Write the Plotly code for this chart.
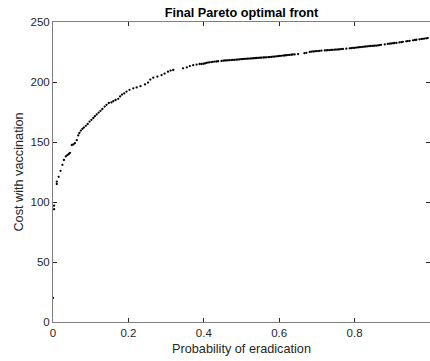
import plotly.graph_objects as go

# Pareto front points: probability of eradication vs cost with vaccination
prob_eradication = [
    0.000, 0.003, 0.003, 0.010, 0.010, 0.015, 0.020, 0.025, 0.029, 0.034,
    0.038, 0.042, 0.045, 0.050, 0.054, 0.058, 0.063, 0.067, 0.070, 0.074,
    0.078, 0.082, 0.087, 0.092, 0.097, 0.102, 0.107, 0.111, 0.116, 0.121,
    0.126, 0.131, 0.137, 0.142, 0.148, 0.155, 0.160, 0.166, 0.173, 0.178,
    0.183, 0.189, 0.195, 0.203, 0.213, 0.222, 0.232, 0.244, 0.252, 0.258,
    0.266, 0.277, 0.288, 0.296, 0.305, 0.312, 0.319, 0.345, 0.355, 0.363,
    0.372, 0.381, 0.389,
    0.394, 0.399, 0.403, 0.407, 0.411, 0.415, 0.420, 0.424, 0.429, 0.434,
    0.438, 0.447, 0.452, 0.456, 0.460, 0.464, 0.468, 0.473, 0.477, 0.481,
    0.486, 0.490, 0.494, 0.499, 0.503, 0.507, 0.512, 0.516, 0.520, 0.525,
    0.529, 0.533, 0.537, 0.540, 0.544, 0.549, 0.553, 0.558, 0.562, 0.566,
    0.571, 0.575, 0.579, 0.584, 0.588, 0.592, 0.597, 0.601, 0.605, 0.610,
    0.614, 0.618, 0.623, 0.627, 0.632, 0.636, 0.641, 0.650, 0.667, 0.672,
    0.681, 0.685, 0.690, 0.694, 0.698, 0.703, 0.707, 0.712, 0.721, 0.725,
    0.729, 0.734, 0.738, 0.742, 0.747, 0.751, 0.756, 0.760, 0.764, 0.769,
    0.778, 0.787, 0.791, 0.796, 0.800, 0.804, 0.809, 0.813, 0.817, 0.822,
    0.826, 0.830, 0.835, 0.839, 0.843, 0.848, 0.852, 0.857, 0.862, 0.866,
    0.870, 0.880, 0.888, 0.893, 0.897, 0.902, 0.906, 0.911, 0.919, 0.924,
    0.928, 0.937, 0.941, 0.946, 0.955, 0.960, 0.964, 0.972, 0.977, 0.981,
    0.985, 0.990, 0.994,
]

cost_vaccination = [
    20.0, 97.0, 94.0, 115.0, 117.0, 121.0, 126.0, 131.0, 135.0, 138.0,
    139.0, 140.0, 141.0, 147.5, 148.0, 149.0, 151.5, 155.5, 157.5, 159.5,
    161.0, 162.0, 163.5, 165.0, 167.0, 168.5, 170.0, 171.5, 173.0, 174.5,
    176.0, 177.5, 179.5, 181.0, 182.5, 183.0, 184.0, 185.0, 186.0, 188.0,
    189.5, 190.5, 192.0, 193.5, 194.7, 195.5, 196.5, 198.0, 199.5, 202.0,
    203.6, 204.5, 205.8, 207.0, 208.6, 209.5, 210.0, 211.4, 212.2, 213.3,
    214.0, 214.5, 215.0,
    215.0, 215.2, 215.5, 216.0, 216.2, 216.4, 216.6, 216.8, 217.0, 217.1,
    217.3, 217.6, 217.8, 217.9, 218.0, 218.1, 218.2, 218.3, 218.4, 218.5,
    218.6, 218.7, 218.8, 219.0, 219.1, 219.2, 219.3, 219.4, 219.5, 219.6,
    219.7, 219.8, 219.9, 220.0, 220.1, 220.2, 220.3, 220.4, 220.5, 220.6,
    220.7, 220.8, 220.9, 221.1, 221.2, 221.4, 221.5, 221.7, 221.8, 222.0,
    222.1, 222.3, 222.4, 222.6, 222.7, 222.9, 223.0, 223.3, 224.0, 224.3,
    225.1, 225.3, 225.4, 225.6, 225.7, 225.8, 226.0, 226.1, 226.3, 226.4,
    226.5, 226.6, 226.7, 226.8, 226.9, 227.0, 227.1, 227.2, 227.4, 227.5,
    227.8, 228.1, 228.2, 228.4, 228.5, 228.7, 228.8, 229.0, 229.1, 229.3,
    229.4, 229.6, 229.7, 229.9, 230.0, 230.1, 230.2, 230.3, 230.5, 230.7,
    230.9, 231.3, 231.7, 231.9, 232.1, 232.3, 232.5, 232.6, 233.0, 233.2,
    233.5, 233.9, 234.1, 234.3, 234.7, 235.0, 235.2, 235.6, 235.8, 236.0,
    236.2, 236.4, 236.6,
]

x_ticks = [0, 0.2, 0.4, 0.6, 0.8, 1]
x_tick_labels = ["0", "0.2", "0.4", "0.6", "0.8", "1"]
y_ticks = [0, 50, 100, 150, 200, 250]
y_tick_labels = ["0", "50", "100", "150", "200", "250"]

FONT = "Liberation Sans, Arial, Helvetica"

fig = go.Figure()
fig.add_trace(go.Scatter(
    x=prob_eradication, y=cost_vaccination, mode="markers",
    marker=dict(color="black", size=2.3, line=dict(width=0)),
    showlegend=False,
))

axis_common = dict(
    showgrid=False, zeroline=False, showline=True, linecolor="#808080",
    linewidth=1, mirror="ticks", ticks="inside", ticklen=4, tickwidth=1,
    tickcolor="#262626", tickfont=dict(family=FONT, size=11.5, color="#262626"),
)

fig.update_layout(
    width=430, height=361,
    margin=dict(l=53, r=0, t=22, b=39),
    plot_bgcolor="white", paper_bgcolor="white",
    title=dict(text="<b>Final Pareto optimal front</b>", x=0.5616, xanchor="center",
               y=0.964, yanchor="middle",
               font=dict(family=FONT, size=12.7, color="black")),
    xaxis=dict(range=[0, 1], tickvals=x_ticks, ticktext=x_tick_labels,
               title=dict(text="Probability of eradication", standoff=6,
                          font=dict(family=FONT, size=12.7, color="#262626")),
               **axis_common),
    yaxis=dict(range=[0, 250], tickvals=y_ticks, ticktext=y_tick_labels,
               title=dict(text="Cost with vaccination", standoff=4,
                          font=dict(family=FONT, size=12.7, color="#262626")),
               **axis_common),
)

fig.write_html(
    "out.html",
    config={"displayModeBar": False},
    post_script="document.body.style.margin='0';document.body.style.overflow='hidden';",
)
